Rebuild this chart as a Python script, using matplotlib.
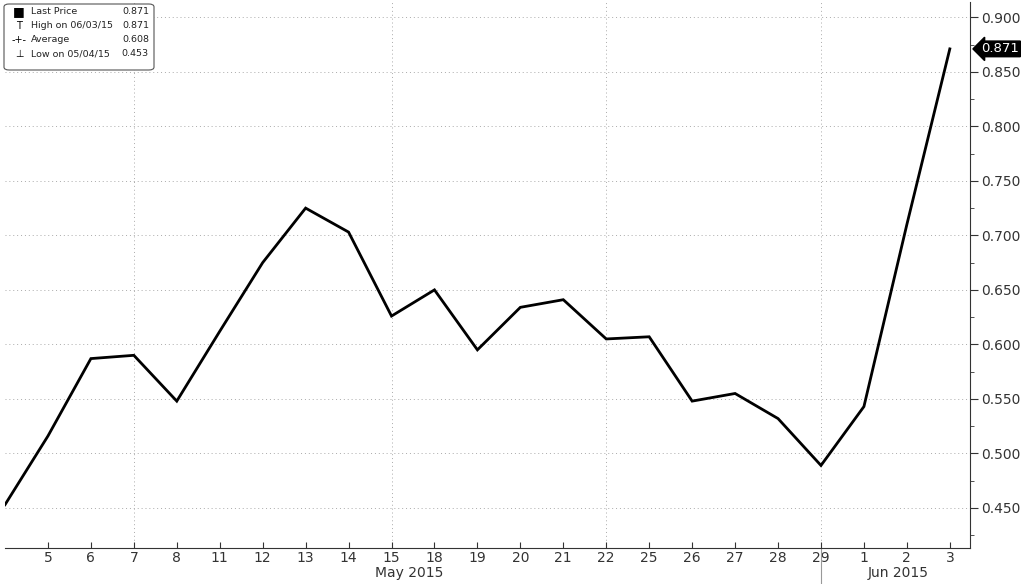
import matplotlib.pyplot as plt
from matplotlib.patches import FancyBboxPatch
import numpy as np

# data
day_labels = ['4', '5', '6', '7', '8', '11', '12', '13', '14', '15', '18', '19',
              '20', '21', '22', '25', '26', '27', '28', '29', '1', '2', '3']
prices = [0.453, 0.516, 0.587, 0.590, 0.548, 0.612, 0.675, 0.725, 0.703, 0.626,
          0.650, 0.595, 0.634, 0.641, 0.605, 0.607, 0.548, 0.555, 0.532, 0.489,
          0.543, 0.710, 0.871]
week_idx = [3, 9, 14, 19]          # 7, 15, 22, 29 May
legend_rows = [('Last Price', '0.871'), ('High on 06/03/15', '0.871'),
               ('Average', '0.608'), ('Low on 05/04/15', '0.453')]
yticks = [0.45, 0.50, 0.55, 0.60, 0.65, 0.70, 0.75, 0.80, 0.85, 0.90]

fig = plt.figure(figsize=(10.24, 5.84), dpi=100)
ax = fig.add_axes([5 / 1024, 36 / 584, 965 / 1024, 546 / 584])
x = np.arange(len(prices))

ax.plot(x, prices, color='black', lw=2.0, solid_joinstyle='miter')
ax.set_xlim(0, 22.47)
ax.set_ylim(0.4133, 0.914)

# grid
for y in yticks:
    ax.axhline(y, color='#aaaaaa', lw=0.7, ls=(0, (1, 3)), zorder=0)
for i in week_idx:
    ax.axvline(i, color='#aaaaaa', lw=0.7, ls=(0, (1, 3)), zorder=0)

# spines / ticks
for s in ['top', 'left']:
    ax.spines[s].set_visible(False)
ax.spines['right'].set_color('#333333')
ax.spines['bottom'].set_color('#333333')
ax.yaxis.tick_right()
ax.set_yticks(yticks)
ax.set_yticklabels([f'{v:.3f}' for v in yticks], fontsize=10, color='#333333')
ax.set_yticks(np.arange(0.425, 0.91, 0.05), minor=True)
ax.tick_params(axis='y', which='major', length=6, direction='out', color='#333333', pad=2)
ax.tick_params(axis='y', which='minor', length=3, direction='out', color='#333333')
ax.set_xticks(x[1:])
ax.set_xticklabels(day_labels[1:], fontsize=10, color='#333333')
ax.tick_params(axis='x', length=4, direction='in', color='#333333', pad=2)

# month labels and separator
xt = ax.get_xaxis_transform()
ax.text(9.4, -0.046, 'May 2015', transform=xt, ha='center', va='center',
        fontsize=10, color='#333333')
ax.text(20.8, -0.046, 'Jun 2015', transform=xt, ha='center', va='center',
        fontsize=10, color='#333333')
ax.plot([19, 19], [0, -0.07], transform=xt, color='#999999', lw=0.8, clip_on=False)

# last price tag
ax.annotate(f'{prices[-1]:.3f}', xy=(1.0, prices[-1]), xycoords=('axes fraction', 'data'),
            xytext=(8, 0), textcoords='offset points', ha='left', va='center',
            fontsize=9.5, color='white',
            bbox=dict(boxstyle='larrow,pad=0.1', fc='black', ec='black'))

# legend box
lx, ly = 8 / 1024, 1 - 12 / 584
box = FancyBboxPatch((4 / 1024, 1 - 70 / 584), 150 / 1024, 66 / 584,
                     boxstyle='round,pad=0,rounding_size=0.005',
                     transform=fig.transFigure, fc='white', ec='#555555', lw=0.8)
fig.patches.append(box)
markers = ['\u25a0', 'T', '-+-', '\u22a5']
for k, (name, val) in enumerate(legend_rows):
    yy = ly - k * 14 / 584
    fig.text(lx + 11 / 1024, yy, markers[k], fontsize=7 if k else 9,
             ha='center', va='center', color='black')
    fig.text(lx + 23 / 1024, yy, name, fontsize=6.8, ha='left', va='center', color='#222222')
    fig.text(149 / 1024, yy, val, fontsize=6.8, ha='right', va='center', color='#222222')

plt.savefig('out.png', dpi=100)
